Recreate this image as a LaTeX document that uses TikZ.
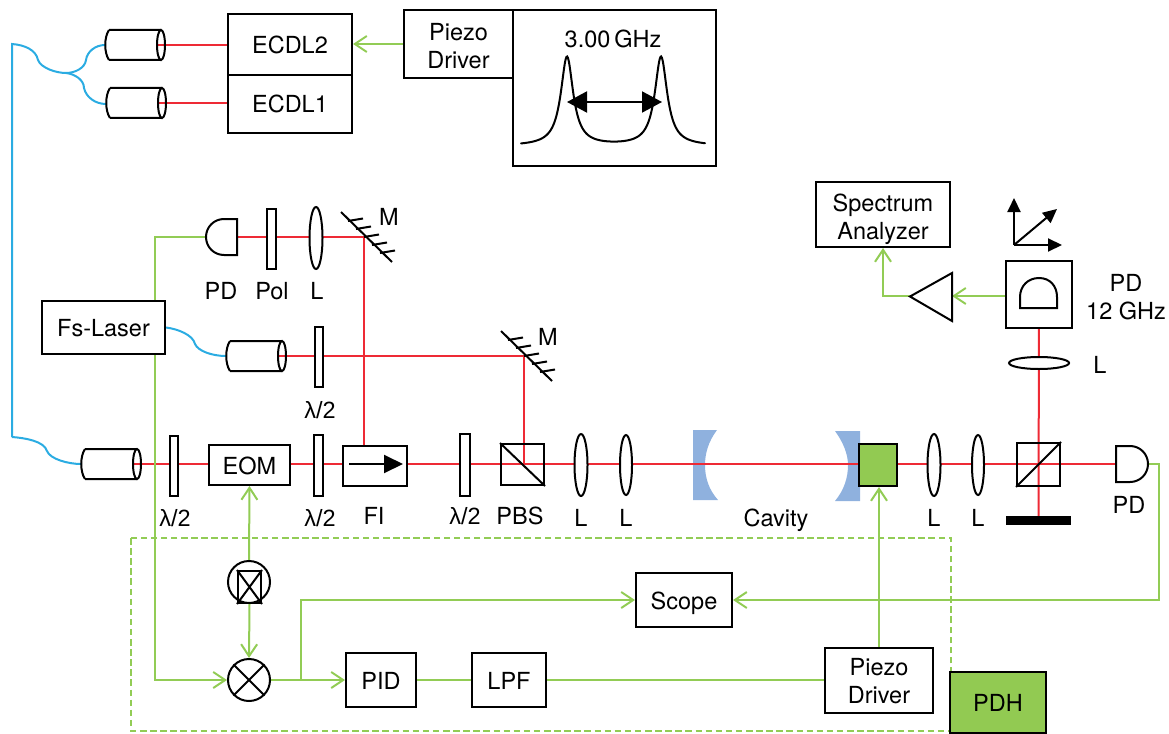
\documentclass[tikz,border=0pt]{standalone}
\usepackage{fontspec}
\setmainfont{TeX Gyre Heros}
\newfontfamily\lamfont{Liberation Sans}
\usetikzlibrary{arrows.meta,shapes.geometric,backgrounds}
\definecolor{beamred}{HTML}{EE2A35}
\definecolor{sigG}{HTML}{92CC55}
\definecolor{fibB}{HTML}{2BACE2}
\definecolor{mirB}{HTML}{8FB1DE}
\definecolor{pdhG}{HTML}{92CA52}
\tikzset{
 txt/.style={font=\fontsize{23.5}{28}\selectfont},
 lbl/.style={txt,inner sep=0pt,align=center,text depth=0pt},
 boxn/.style={txt,draw=black,line width=2pt,fill=white,inner sep=0pt,align=center,text height=18pt,text depth=0pt},
 boxtwo/.style={boxn,text height=49pt},
 plate/.style={draw=black,line width=2pt,fill=white,inner sep=0pt},
 lens/.style={draw=black,line width=2pt,fill=white,ellipse,inner sep=0pt},
 rim/.style={draw=black,line width=2pt,ellipse,inner sep=0pt},
 blk/.style={draw=black,line width=2pt},
 red/.style={draw=beamred,line width=2pt},
 sig/.style={draw=sigG,line width=2pt},
 sigA/.style={sig,-{Straight Barb[length=12pt,width=16pt,line width=2pt]}},
 fib/.style={draw=fibB,line width=2pt},
 solidtip/.style={-{Triangle[length=14pt,width=13pt]}},
 disc/.style={draw=black,line width=2pt,fill=white,circle,inner sep=0pt,minimum size=42pt}
}
\newcommand{\collim}[3]{% name, left x, centre y
 \draw[blk] (#2+4,#3-15) -- (#2+56,#3-15) (#2+4,#3+15) -- (#2+56,#3+15)
  (#2+4,#3-15) .. controls (#2-1,#3-8) and (#2-1,#3+8) .. (#2+4,#3+15);
 \node[rim,minimum width=8pt,minimum height=30pt] (#1) at (#2+56,#3) {};
 \coordinate (#1L) at (#2,#3);
}
\newcommand{\hatchmirror}[2]{% joint x, y
 \draw[blk] (#1-23,#2-25) -- (#1+28,#2+25);
 \foreach \k in {-2,...,2} \draw[blk] (#1+\k*8,#2+\k*8) -- ++(15,-2.5);
}
\begin{document}
\begin{tikzpicture}[x=1pt,y=-1pt]
\useasboundingbox (0,0) rectangle (1169,733);
% boxes
\node[boxn,minimum width=124pt,minimum height=61pt] (ecdlB) at (290,44.5) {ECDL2};
\node[boxn,minimum width=124pt,minimum height=58pt] (ecdlA) at (290,104) {ECDL1};
\node[boxtwo,minimum width=109pt,minimum height=68pt] (pzA) at (458.5,44) {Piezo\\Driver};
\node[draw=black,line width=2pt,fill=white,inner sep=0pt,minimum width=203pt,minimum height=156pt] (spec) at (614.5,88) {};
\node[lbl] (ghz) at (613,39) {3.00\,GHz};
\draw[line width=2pt,line cap=round] plot[domain=521:705,samples=240,smooth] (\x,{146-89*(1/(1+((\x-567)/7.5)^2)+1/(1+((\x-661)/7.5)^2))});
\coordinate (wL) at (567,102); \coordinate (wR) at (662,102);
\draw[line width=2pt,{Triangle[length=20pt,width=21pt]}-{Triangle[length=20pt,width=21pt]}] (wL) -- (wR);
% collimators
\collim{cB}{105}{45}
\collim{cA}{106}{103}
\collim{cF}{226}{356}
\collim{cM}{81}{464}
% detection arm, top
\draw[blk,fill=white] (237,219) -- (224,219) .. controls (214,219) and (206,227) .. (206,237) .. controls (206,247) and (214,255) .. (224,255) -- (237,255) -- cycle;
\coordinate (pdAr) at (237,237); \coordinate (pdAl) at (206,237);
\node[plate,minimum width=9pt,minimum height=60pt] (pol) at (271.5,238.5) {};
\node[lens,minimum width=13pt,minimum height=62pt] (lA) at (316,238) {};
\coordinate (mA) at (364,237); \coordinate (mB) at (524,356);
\hatchmirror{364}{237}
\hatchmirror{524}{356}
\node[lbl] (tM1) at (389,217) {M};
\node[lbl] (tM2) at (548,337) {M};
\node[lbl] (tPD1) at (221,291) {PD};
\node[lbl] (tPol) at (272,291) {Pol};
\node[lbl] (tL1) at (317,291) {L};
\node[boxn,minimum width=123pt,minimum height=53pt] (fs) at (103.5,327.5) {Fs-Laser};
\node[plate,minimum width=8pt,minimum height=60pt] (hwB) at (319,357) {};
\node[lbl] (tH2) at (320,410) {\lamfont λ/2};
% main line
\node[plate,minimum width=8pt,minimum height=60pt] (hwA) at (173.5,465.5) {};
\node[boxn,minimum width=81pt,minimum height=40pt] (eom) at (249.5,465) {EOM};
\node[plate,minimum width=9pt,minimum height=61pt] (hwC) at (318.5,465) {};
\node[boxn,minimum width=64pt,minimum height=40pt] (fi) at (375,465.5) {};
\coordinate (fiL) at (349,464); \coordinate (fiR) at (403,464);
\draw[line width=2pt,-{Triangle[length=19pt,width=18pt]}] (fiL) -- (fiR);
\node[plate,minimum width=10pt,minimum height=62pt] (hwD) at (465,465) {};
\node[draw=black,line width=2pt,inner sep=0pt,minimum width=43pt,minimum height=41pt] (pbsA) at (522.5,464.5) {};
\draw[blk] (pbsA.north west) -- (pbsA.south east);
\node[lens,minimum width=13pt,minimum height=62pt] (lB) at (581,465) {};
\node[lens,minimum width=12pt,minimum height=60pt] (lC) at (626,465) {};
\node[lbl] (tH1) at (175,518) {\lamfont λ/2};
\node[lbl] (tH3) at (320,518) {\lamfont λ/2};
\node[lbl] (tFI) at (374,516) {FI};
\node[lbl] (tH4) at (465,516) {\lamfont λ/2};
\node[lbl] (tPBS) at (520,516) {PBS};
\node[lbl] (tL2) at (581,518) {L};
\node[lbl] (tL3) at (626,518) {L};
\node[lbl] (tCav) at (776,518) {Cavity};
\node[draw=black,line width=2pt,fill=pdhG,inner sep=0pt,minimum width=38pt,minimum height=42pt] (pz) at (878,465) {};
\node[lens,minimum width=13pt,minimum height=62pt] (lD) at (934,465) {};
\node[lens,minimum width=12pt,minimum height=60pt] (lE) at (978,465) {};
\node[lbl] (tL4) at (934,518) {L};
\node[lbl] (tL5) at (978,518) {L};
\node[draw=black,line width=2pt,inner sep=0pt,minimum width=43pt,minimum height=43pt] (pbsB) at (1038.5,464.5) {};
\draw[blk] (pbsB.south west) -- (pbsB.north east);
\node[fill=black,inner sep=0pt,minimum width=65pt,minimum height=9pt] (block) at (1038.5,520.5) {};
\draw[blk,fill=white] (1116,446) -- (1130,446) .. controls (1140,446) and (1148,454) .. (1148,464) .. controls (1148,474) and (1140,482) .. (1130,482) -- (1116,482) -- cycle;
\coordinate (pdCl) at (1116,464); \coordinate (pdCr) at (1148,464);
\node[lbl] (tPD3) at (1129,505) {PD};
% upper right
\node[lens,minimum width=60pt,minimum height=12pt] (lF) at (1039,363) {};
\node[lbl] (tL6) at (1100,365) {L};
\node[draw=black,line width=2pt,fill=white,inner sep=0pt,minimum width=66pt,minimum height=67pt] (pdbox) at (1039,294.5) {};
\draw[blk] (1020,308) -- (1020,297) .. controls (1020,286) and (1028,278) .. (1039,278) .. controls (1050,278) and (1057,286) .. (1057,297) -- (1057,308) -- cycle;
\coordinate (pdBb) at (1039,308);
\node[lbl] (tPD2) at (1126,297) {PD\\12 GHz};
\node[boxtwo,minimum width=134pt,minimum height=65pt] (sa) at (883,214.5) {Spectrum\\Analyzer};
\draw[blk,fill=white] (952,273) -- (952,321) -- (910,296.5) -- cycle;
\coordinate (ampR) at (952,296); \coordinate (ampL) at (910,296);
\coordinate (ax) at (1014,245); \coordinate (axU) at (1014,198); \coordinate (axR) at (1062,245); \coordinate (axD) at (1057,209);
\draw[line width=2pt,solidtip] (ax) -- (axU);
\draw[line width=2pt,solidtip] (ax) -- (axR);
\draw[line width=2pt,solidtip] (ax) -- (axD);
% electronics
\node[disc] (vco) at (249,582) {};
\node[draw=black,line width=2pt,inner sep=0pt,minimum width=23pt,minimum height=32pt] (vcoin) at (249.5,587) {};
\draw[blk] (vcoin.north west) -- (vcoin.south east) (vcoin.north east) -- (vcoin.south west);
\node[disc] (mix) at (249,680) {};
\draw[blk] (mix.north west) -- (mix.south east) (mix.north east) -- (mix.south west);
\node[boxn,minimum width=70pt,minimum height=54pt] (pid) at (381,680) {PID};
\node[boxn,minimum width=74pt,minimum height=54pt] (lpf) at (509,680) {LPF};
\node[boxn,minimum width=96pt,minimum height=54pt] (scope) at (684,600) {Scope};
\node[boxtwo,minimum width=108pt,minimum height=65pt,text height=47pt] (pzB) at (879,680) {Piezo\\Driver};
\node[boxn,fill=pdhG,minimum width=96pt,minimum height=61pt] (pdh) at (998,702.5) {PDH};
\coordinate (branch) at (301,680);
\begin{scope}[on background layer]
\fill[mirB] (693,430) -- (717,430) .. controls (708,442) and (705,454) .. (705,465) .. controls (705,478) and (709,490) .. (718,500) -- (693,500) -- cycle;
\fill[mirB] (860,431) -- (835,431) .. controls (843,442) and (848,454) .. (848,465) .. controls (848,478) and (844,490) .. (835,501) -- (860,501) -- cycle;
\draw[sig,dash pattern=on 6.5pt off 3.6pt] (131,538) rectangle (951,731);
% fibres
\draw[fib] (12,437) -- (12,44) .. controls (25,45) and (36,50) .. (38,60) .. controls (41,68) and (56,73) .. (66,73) .. controls (75,73) and (85,68) .. (86,60) .. controls (87,52) and (95,45) .. (cBL);
\draw[fib] (66,73) .. controls (75,74) and (84,80) .. (84,88) .. controls (86,97) and (95,104) .. (106,104);
\draw[fib] (fs.east) .. controls (178,329) and (193,335) .. (195,344) .. controls (198,351) and (212,356) .. (cFL);
\draw[fib] (12,437) .. controls (25,438) and (44,441) .. (47,451) .. controls (50,459) and (68,464) .. (cML);
% beams
\draw[red] (cB.west) -- (cB.west -| ecdlB.west);
\draw[red] (cA.west) -- (cA.west -| ecdlA.west);
\draw[red] (pdAr) -- (mA) -- (fi.north -| mA);
\draw[red] (cF.west) -- (mB) -- (pbsA.center -| mB);
\draw[red] (cM.west) -- (pdCl);
\draw[red] (pdBb) -- (block.north);
% signals
\draw[sig] (pdAl) -| (fs.north -| 155,0);
\draw[sigA] (fs.south -| 155,0) |- (mix.west);
\draw[sigA] (pzA.west) -- (pzA.west -| ecdlB.east);
\draw[sigA] (pdbox.west |- ampR) -- (ampR);
\draw[sigA] (ampL) -| (sa.south);
\draw[sigA] (vco.north) -- (eom.south);
\draw[sigA] (vcoin.south) -- (mix.north);
\draw[sigA] (mix.east) -- (pid.west);
\draw[sigA] (branch) |- (scope.west);
\draw[sig] (pid.east) -- (lpf.west);
\draw[sig] (lpf.east) -- (pzB.west);
\draw[sigA] (pzB.north) -- (pz.south -| pzB.north);
\draw[sigA] (pdCr) -- (1159,464) -- (1159,600) -- (scope.east);
\end{scope}
\end{tikzpicture}
\end{document}
